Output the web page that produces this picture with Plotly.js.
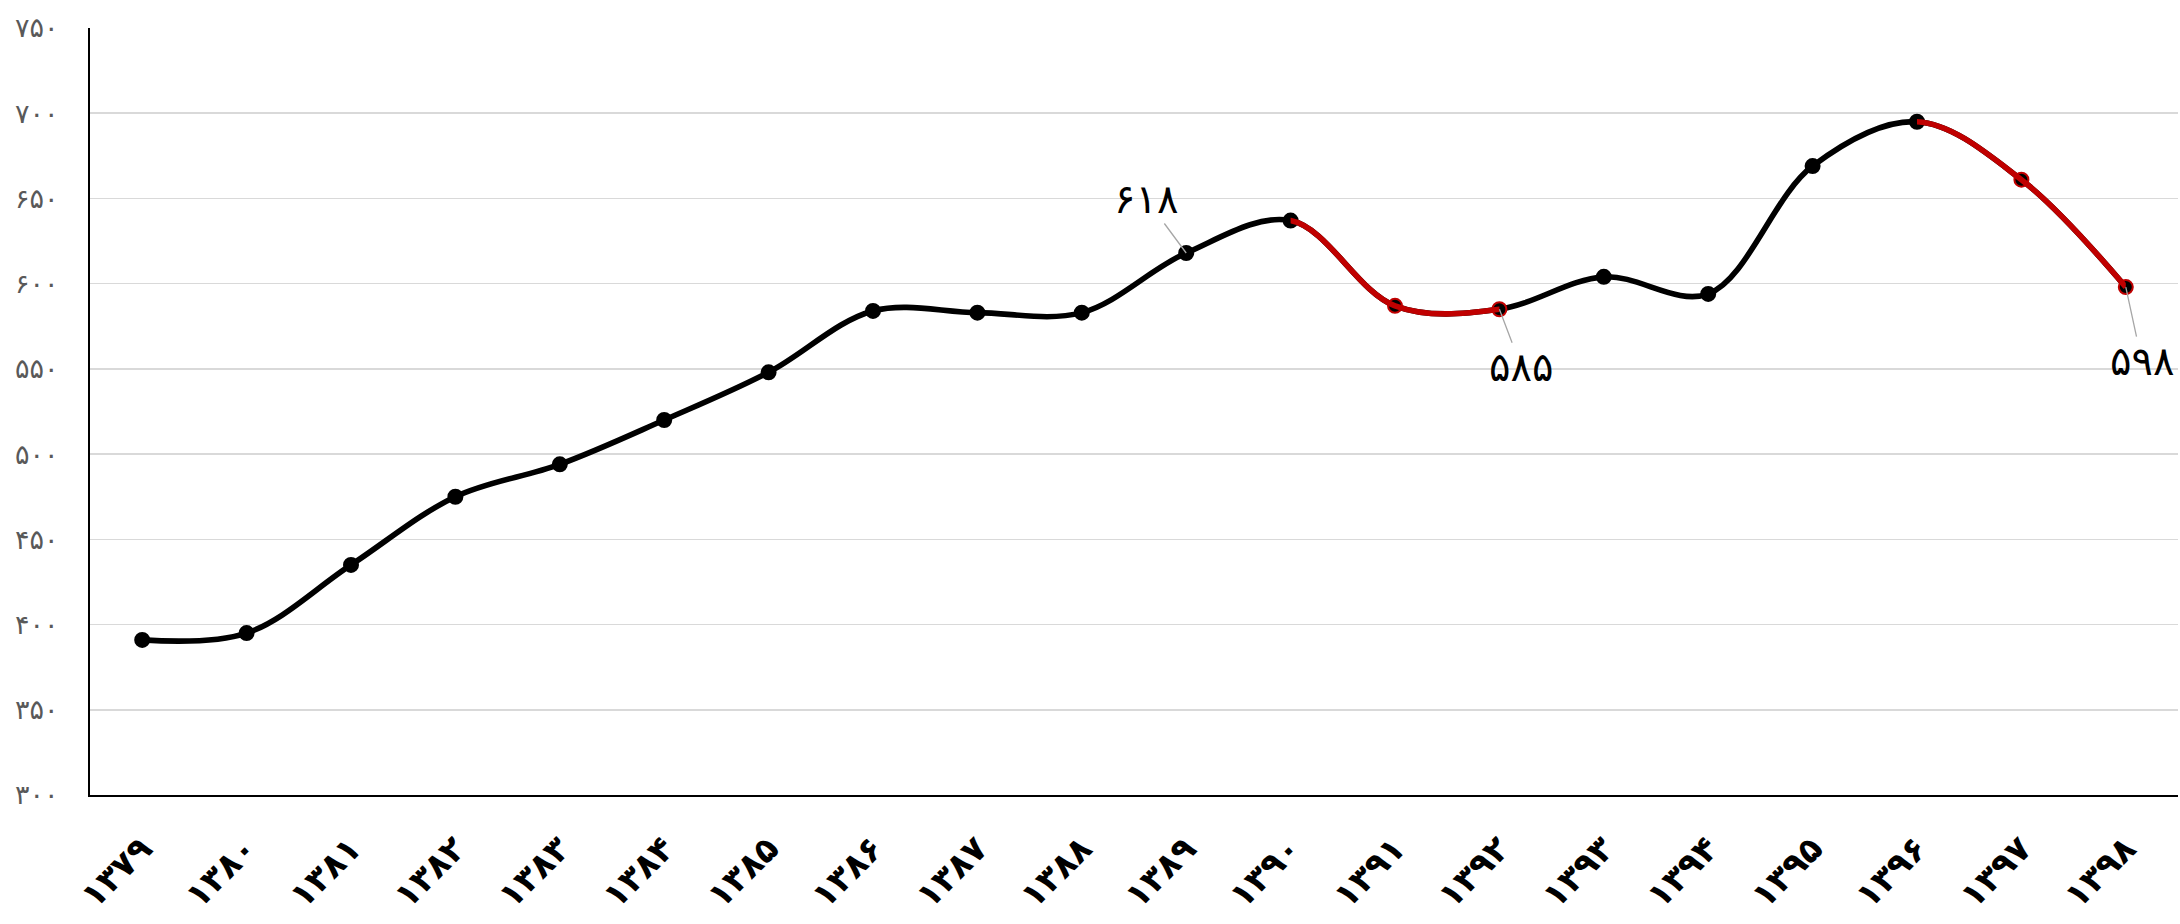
<!DOCTYPE html>
<html>
<head>
<meta charset="utf-8">
<script src="https://cdn.plot.ly/plotly-3.0.1.min.js"></script>
<style>
html,body{margin:0;padding:0;background:#fff;}
#chart{width:2180px;height:924px;}
</style>
</head>
<body>
<div id="chart"></div>
<script>
// Categories (years, Persian digits)
const years = ['۱۳۷۹','۱۳۸۰','۱۳۸۱','۱۳۸۲','۱۳۸۳','۱۳۸۴','۱۳۸۵','۱۳۸۶','۱۳۸۷','۱۳۸۸','۱۳۸۹','۱۳۹۰','۱۳۹۱','۱۳۹۲','۱۳۹۳','۱۳۹۴','۱۳۹۵','۱۳۹۶','۱۳۹۷','۱۳۹۸'];
// Series values
const values = [391, 395, 435, 475, 494, 520, 548, 584, 583, 583, 618, 637, 587, 585, 604, 594, 669, 695, 661, 598];
// Decline segments drawn in red (start index, end index)
const redSegments = [[11, 13], [17, 19]];
// Y-axis ticks
const yTickVals = [300, 350, 400, 450, 500, 550, 600, 650, 700, 750];
const yTickText = ['۳۰۰','۳۵۰','۴۰۰','۴۵۰','۵۰۰','۵۵۰','۶۰۰','۶۵۰','۷۰۰','۷۵۰'];
// Labelled points: index and label text
const labelIdx = [10, 13, 19];
const labelText = ['۶۱۸', '۵۸۵', '۵۹۸'];
const labelOffsets = [[-40, -54], [22, 58], [16, 74]];

const FONT = 'DejaVu Sans, Noto Sans, sans-serif';
const RED = '#c00000';
const N = years.length;
const LINE_W = 5.6;

const redIdx = new Set();
redSegments.forEach(([a, b]) => { for (let i = a + 1; i <= b; i++) redIdx.add(i); });

const traces = [];
// full black smoothed line
traces.push({
  x: years, y: values, type: 'scatter', mode: 'lines',
  line: {color: '#000', width: LINE_W, shape: 'spline', smoothing: 1, simplify: false},
  hoverinfo: 'skip', showlegend: false, xaxis: 'x', yaxis: 'y'
});

const layout = {
  width: 2180, height: 924,
  margin: {l: 90, r: 2, t: 28, b: 129},
  paper_bgcolor: '#fff', plot_bgcolor: 'rgba(0,0,0,0)',
  showlegend: false,
  xaxis: {
    type: 'category', range: [-0.5, N - 0.5], domain: [0, 1],
    showline: true, linecolor: '#000', linewidth: 2,
    showgrid: false, zeroline: false, ticks: '',
    tickangle: -45, ticklabelstandoff: 18,
    tickfont: {family: FONT, size: 34, color: '#000', weight: 'bold'}
  },
  yaxis: {
    range: [300, 750], tickvals: yTickVals, ticktext: yTickText,
    showline: true, linecolor: '#000', linewidth: 2,
    showgrid: true, gridcolor: '#d9d9d9', gridwidth: 1.5, zeroline: false,
    ticks: '', ticklabelstandoff: 24,
    tickfont: {family: FONT, size: 27, color: '#595959'}
  }
};

// red segments: same full smoothed curve, shown only inside a window covering the segment
redSegments.forEach(([a, b], k) => {
  const xa = 'xaxis' + (k + 2), ya = 'yaxis' + (k + 2);
  layout[xa] = {
    type: 'category', range: [a, b], domain: [(a + 0.5) / N, (b + 0.5) / N],
    anchor: 'y' + (k + 2), visible: false, fixedrange: true
  };
  layout[ya] = {
    range: [300, 750], domain: [0, 1], anchor: 'x' + (k + 2),
    visible: false, fixedrange: true
  };
  traces.push({
    x: years, y: values, type: 'scatter', mode: 'lines',
    line: {color: RED, width: LINE_W, shape: 'spline', smoothing: 1, simplify: false},
    hoverinfo: 'skip', showlegend: false, xaxis: 'x' + (k + 2), yaxis: 'y' + (k + 2)
  });
});

// markers on top, on main axes
traces.push({
  x: years, y: values, type: 'scatter', mode: 'markers',
  marker: {
    color: '#000', size: 14,
    line: {width: 2, color: years.map((_, i) => redIdx.has(i) ? RED : '#000')}
  },
  showlegend: false, xaxis: 'x', yaxis: 'y', cliponaxis: false
});

layout.annotations = labelIdx.map((idx, k) => ({
  x: years[idx], y: values[idx], xref: 'x', yref: 'y',
  text: labelText[k], showarrow: true, arrowhead: 0, arrowwidth: 1.3,
  arrowcolor: '#a6a6a6', ax: labelOffsets[k][0], ay: labelOffsets[k][1],
  font: {family: FONT, size: 40, color: '#000'}
}));

Plotly.newPlot('chart', traces, layout, {displayModeBar: false, staticPlot: true});
</script>
</body>
</html>
